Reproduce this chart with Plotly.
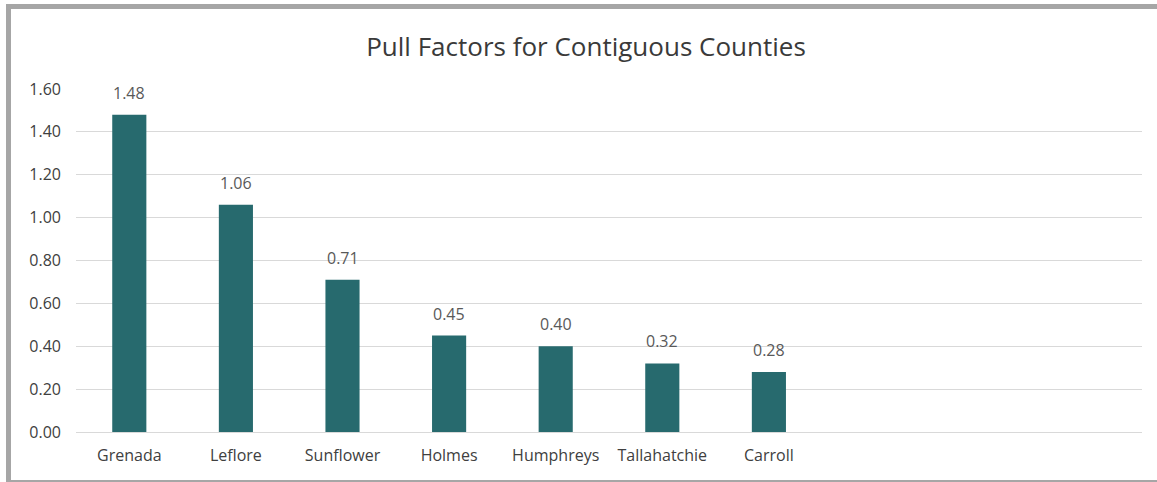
import plotly.graph_objects as go

categories = ["Grenada", "Leflore", "Sunflower", "Holmes", "Humphreys", "Tallahatchie", "Carroll"]
values = [1.48, 1.06, 0.71, 0.45, 0.40, 0.32, 0.28]
y_ticks = [0, 0.2, 0.4, 0.6, 0.8, 1.0, 1.2, 1.4, 1.6]
title = "Pull Factors for Contiguous Counties"

W, H = 1157, 482
L, R, T, B = 76, 15, 89, 50
pw, ph = W - L - R, H - T - B

def px(x):
    return (x - L) / pw

def py(y):
    return (H - B - y) / ph

FONT = "Open Sans"
fig = go.Figure()
fig.add_trace(go.Bar(
    x=categories, y=values,
    marker=dict(color="#276A6E", line=dict(width=0)),
    width=0.32,
    hoverinfo="x+y",
))
for c, v in zip(categories, values):
    fig.add_annotation(x=c, y=v, text=f"{v:.2f}", showarrow=False,
                       yanchor="bottom", yshift=9,
                       font=dict(family=FONT, size=16, color="#595959"))
fig.update_layout(
    width=W, height=H,
    margin=dict(l=L, r=R, t=T, b=B),
    paper_bgcolor="white", plot_bgcolor="white",
    showlegend=False,
    title=dict(text=title, x=586 / W, xref="container", xanchor="center",
               y=1 - 47 / H, yanchor="middle",
               font=dict(family=FONT, size=26, color="#3A3A3A")),
    xaxis=dict(type="category", range=[-0.5, 9.5], showgrid=False, showline=False,
               ticks="", ticklabelstandoff=12,
               tickfont=dict(family=FONT, size=16, color="#404040")),
    yaxis=dict(range=[0, 1.6], tickvals=y_ticks, ticktext=[f"{v:.2f}" for v in y_ticks],
               showgrid=True, gridcolor="#D9D9D9", gridwidth=1, zeroline=True,
               zerolinecolor="#D9D9D9", zerolinewidth=1, showline=False, ticks="",
               ticklabelstandoff=14,
               tickfont=dict(family=FONT, size=16, color="#404040")),
    shapes=[
        dict(type="rect", xref="paper", yref="paper", x0=px(6), x1=px(11), y0=py(482), y1=py(4),
             fillcolor="#A6A6A6", line=dict(width=0), layer="above"),
        dict(type="rect", xref="paper", yref="paper", x0=px(6), x1=px(1160), y0=py(9), y1=py(4),
             fillcolor="#A6A6A6", line=dict(width=0), layer="above"),
        dict(type="rect", xref="paper", yref="paper", x0=px(6), x1=px(1160), y0=py(482), y1=py(480),
             fillcolor="#A6A6A6", line=dict(width=0), layer="above"),
    ],
)
fig.write_html("out.html", config={"displayModeBar": False},
               post_script="document.body.style.margin='0';document.body.style.overflow='hidden';")
